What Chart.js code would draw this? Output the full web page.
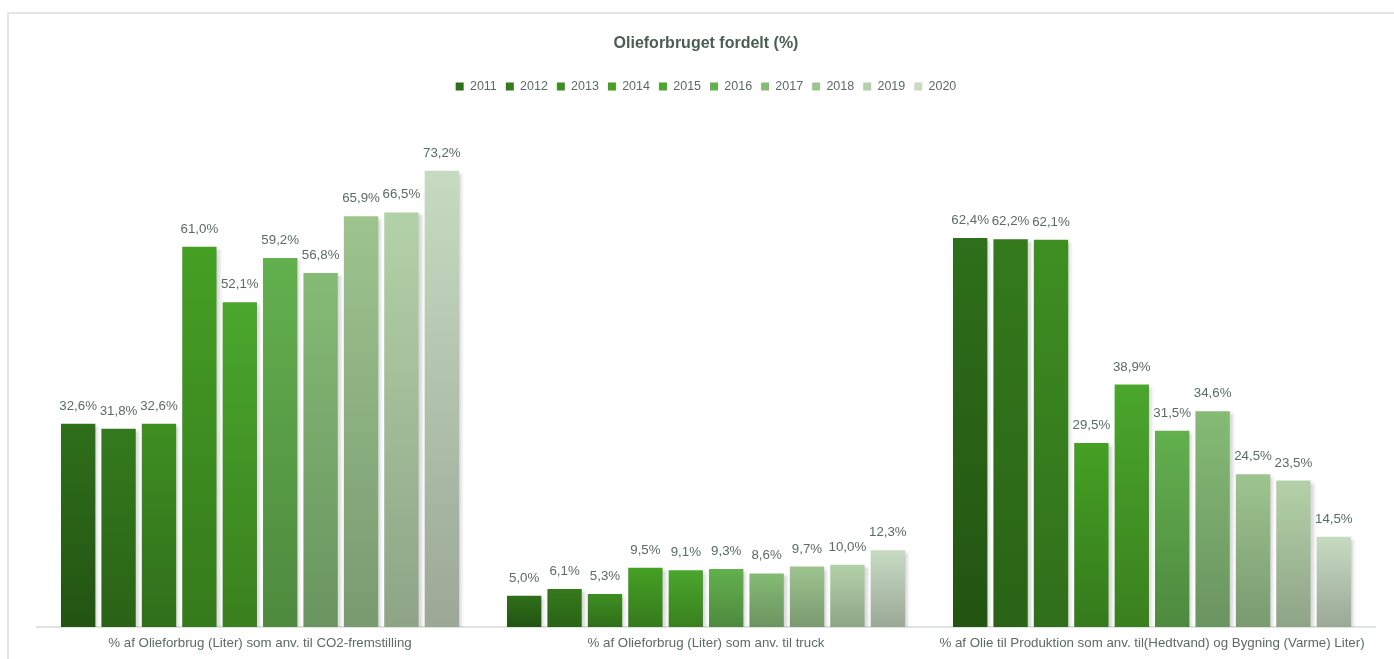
<!DOCTYPE html>
<html>
<head>
<meta charset="utf-8">
<script src="https://cdn.jsdelivr.net/npm/chart.js@4"></script>
<style>
  html, body { margin: 0; padding: 0; background: #fff; overflow: hidden; }
  #frame { position: absolute; left: 7px; top: 12px; width: 1500px; height: 700px; border: 2px solid #e3e8e6; box-sizing: border-box; }
  #wrap { position: absolute; left: 0; top: 0; width: 1394px; height: 659px; }
</style>
</head>
<body>
<div id="frame"></div>
<div id="wrap"><canvas id="oilChart"></canvas></div>
<script>
const categories = [
  "% af Olieforbrug (Liter) som anv. til CO2-fremstilling",
  "% af Olieforbrug (Liter) som anv. til truck",
  "% af Olie til Produktion som anv. til(Hedtvand) og Bygning (Varme) Liter)"
];
const years = ["2011", "2012", "2013", "2014", "2015", "2016", "2017", "2018", "2019", "2020"];
const v2011 = [32.6, 5.0, 62.4];
const v2012 = [31.8, 6.1, 62.2];
const v2013 = [32.6, 5.3, 62.1];
const v2014 = [61.0, 9.5, 29.5];
const v2015 = [52.1, 9.1, 38.9];
const v2016 = [59.2, 9.3, 31.5];
const v2017 = [56.8, 8.6, 34.6];
const v2018 = [65.9, 9.7, 24.5];
const v2019 = [66.5, 10.0, 23.5];
const v2020 = [73.2, 12.3, 14.5];
const values = [v2011, v2012, v2013, v2014, v2015, v2016, v2017, v2018, v2019, v2020];

// top / bottom colour of each year's gradient
const topColors = ["#2e6f1a", "#347a1c", "#3e8f22", "#45a024", "#4aa72c", "#62b04e", "#85bb75", "#9dc48f", "#b3d1a8", "#c6dbc2"];
const bottomColors = ["#235412", "#2a6316", "#306e1a", "#357a1c", "#3a801e", "#4e8a3e", "#6a9460", "#7a9a70", "#8fa487", "#9ba896"];

const textColor = "#5b6b63";
const fontFamily = "'Liberation Sans', Arial, sans-serif";

function barFill(i) {
  return function (ctx) {
    const chart = ctx.chart;
    const area = chart.chartArea;
    if (!area || ctx.raw === undefined) return topColors[i];
    const y = chart.scales.y.getPixelForValue(ctx.raw);
    const g = chart.ctx.createLinearGradient(0, y, 0, area.bottom);
    g.addColorStop(0, topColors[i]);
    g.addColorStop(1, bottomColors[i]);
    return g;
  };
}

const shadowPlugin = {
  id: "shadow",
  beforeDatasetsDraw(chart) {
    const c = chart.ctx;
    c.save();
    c.shadowColor = "rgba(0,0,0,0.16)";
    c.shadowBlur = 3;
    c.shadowOffsetX = 3;
    c.shadowOffsetY = 2;
  },
  afterDatasetsDraw(chart) {
    chart.ctx.restore();
  }
};

const labelPlugin = {
  id: "valueLabels",
  afterDatasetsDraw(chart) {
    const c = chart.ctx;
    c.save();
    c.font = "13.3px " + fontFamily;
    c.fillStyle = textColor;
    c.textAlign = "center";
    c.textBaseline = "bottom";
    chart.data.datasets.forEach((ds, i) => {
      chart.getDatasetMeta(i).data.forEach((bar, j) => {
        c.fillText(ds.data[j].toFixed(1).replace(".", ",") + "%", bar.x, bar.y - 11);
      });
    });
    c.restore();
  }
};

new Chart(document.getElementById("oilChart"), {
  type: "bar",
  data: {
    labels: categories,
    datasets: years.map((y, i) => ({
      label: y,
      data: values[i],
      backgroundColor: barFill(i),
      borderWidth: 0,
      categoryPercentage: 0.906,
      barPercentage: 0.85
    }))
  },
  plugins: [shadowPlugin, labelPlugin],
  options: {
    responsive: true,
    maintainAspectRatio: false,
    animation: false,
    layout: { padding: { left: 37, right: 19, top: 34, bottom: 0 } },
    plugins: {
      title: {
        display: true,
        text: "Olieforbruget fordelt (%)",
        color: "#4b5e55",
        font: { family: fontFamily, size: 16, weight: "bold" },
        padding: { top: 0, bottom: 18 }
      },
      legend: {
        position: "top",
        labels: {
          color: textColor,
          font: { family: fontFamily, size: 12.5 },
          boxWidth: 8,
          boxHeight: 8,
          padding: 9,
          generateLabels(chart) {
            return years.map((y, i) => ({
              text: y,
              fillStyle: topColors[i],
              strokeStyle: topColors[i],
              lineWidth: 0,
              fontColor: textColor,
              datasetIndex: i
            }));
          }
        }
      },
      tooltip: { enabled: false }
    },
    scales: {
      x: {
        grid: { display: false, drawTicks: false },
        border: { display: true, color: "#dfe4e2", width: 2 },
        ticks: {
          color: textColor,
          padding: 8,
          maxRotation: 0,
          font: { family: fontFamily, size: 13.3 }
        }
      },
      y: {
        display: false,
        min: 0,
        max: 84.1
      }
    }
  }
});
</script>
</body>
</html>
